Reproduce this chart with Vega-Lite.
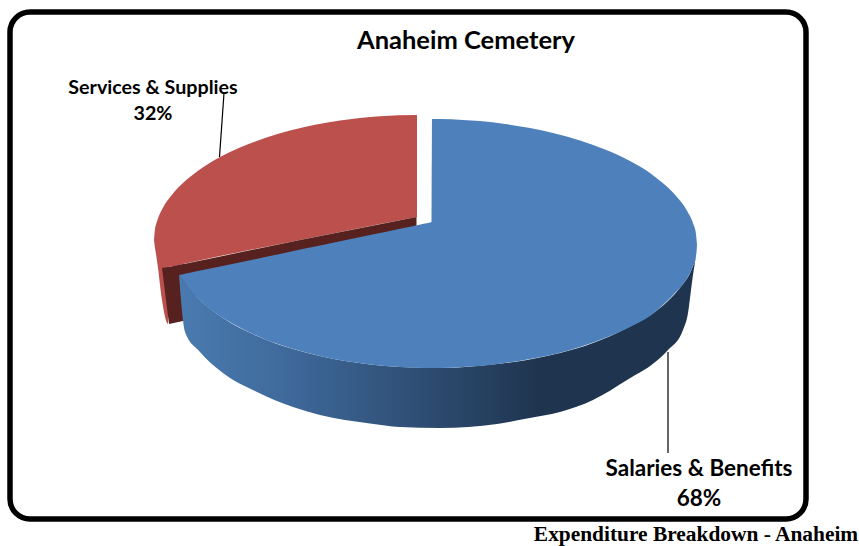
{
"$schema":"https://vega.github.io/schema/vega-lite/v6.json",
"width":859,"height":546,"padding":0,"autosize":{"type":"none"},
"background":"white",
"view":{"stroke":null},
"datasets":{
"frame":[{"left":10,"right":806,"top":12,"bottom":519}],
"redFace":[
{"px":154,"up":240,"low":240},{"px":155,"up":229,"low":248},{"px":156,"up":224.6,"low":254},{"px":158,"up":218.4,"low":268},{"px":162,"up":209.5,"low":300},{"px":168,"up":199.8,"low":324},{"px":169,"up":198.5,"low":267},{"px":175,"up":191,"low":266},{"px":183,"up":183,"low":264},{"px":197,"up":171.5,"low":261},{"px":220,"up":157,"low":256},{"px":240,"up":147.5,"low":252},{"px":265,"up":138,"low":247},{"px":290,"up":130.5,"low":242},{"px":315,"up":124.8,"low":237},{"px":340,"up":120.5,"low":232},{"px":380,"up":116.2,"low":224},{"px":417,"up":115,"low":217}],
"redWall":[
{"px":162,"up":268,"low":268},{"px":169,"up":267,"low":324},{"px":183,"up":264,"low":321},{"px":184,"up":264,"low":300},{"px":300,"up":240,"low":262},{"px":416.5,"up":217,"low":229}],
"blueSide":[
{"px":179,"up":275,"low":275},{"px":185,"up":283.4,"low":332},{"px":200,"up":300,"low":352},{"px":223,"up":318,"low":373},{"px":257,"up":336,"low":392},{"px":293,"up":349,"low":407},{"px":320,"up":356,"low":415},{"px":370,"up":364.4,"low":423.5},{"px":400,"up":367,"low":427},{"px":440,"up":368,"low":428},{"px":497,"up":364,"low":424},{"px":527,"up":360,"low":418.5},{"px":560,"up":353,"low":412},{"px":593,"up":343,"low":400},{"px":627,"up":328,"low":380},{"px":660,"up":308,"low":358},{"px":668,"up":301,"low":350},{"px":683,"up":284,"low":330},{"px":688,"up":277,"low":313},{"px":691,"up":271,"low":290},{"px":693,"up":266,"low":275},{"px":695,"up":260,"low":262},{"px":697,"up":245,"low":246}],
"blueFace":[
{"px":179,"up":275,"low":275},{"px":185,"up":273.7,"low":283.4},{"px":190,"up":272.7,"low":290},{"px":203,"up":270,"low":303},{"px":220,"up":266.5,"low":316},{"px":237,"up":263,"low":326},{"px":263,"up":257.5,"low":338.5},{"px":290,"up":251.7,"low":348},{"px":320,"up":245.5,"low":356},{"px":370,"up":235,"low":364.4},{"px":400,"up":228.7,"low":367},{"px":425,"up":223.5,"low":368},{"px":431.7,"up":222,"low":368},{"px":432,"up":119,"low":368},{"px":440,"up":119.1,"low":368},{"px":463,"up":119.9,"low":367},{"px":480,"up":121.1,"low":366},{"px":505,"up":124,"low":363},{"px":530,"up":128,"low":359},{"px":555,"up":133.5,"low":354},{"px":580,"up":140.4,"low":347},{"px":605,"up":149.5,"low":338},{"px":630,"up":161,"low":327},{"px":650,"up":173,"low":316},{"px":663,"up":183.3,"low":305},{"px":675,"up":194.7,"low":293},{"px":687,"up":210.7,"low":278.5},{"px":693,"up":223.2,"low":266},{"px":696,"up":234,"low":256},{"px":697,"up":245,"low":245}],
"leaders":[{"x1":224,"y1":93,"x2":219.5,"y2":157},{"x1":668,"y1":352,"x2":668,"y2":453}],
"sliver":[{"px":432.4,"top":165,"end":222}],
"slices":[{"category":"Salaries & Benefits","share":0.68,"cx":699,"nameY":469,"shareY":499},{"category":"Services & Supplies","share":0.32,"cx":153,"nameY":88,"shareY":114}],
"titleRow":[{"text":"Anaheim Cemetery","cx":466,"cy":41}],
"captionRow":[{"text":"Expenditure Breakdown - Anaheim","cx":696,"cy":535}]
},
"encoding":{},
"layer":[
{"data":{"name":"frame"},"mark":{"type":"rect","fill":"white","stroke":"black","strokeWidth":5.5,"cornerRadius":20},
"encoding":{"x":{"field":"left","type":"quantitative","scale":{"domain":[0,859],"nice":false,"zero":false},"axis":null},"x2":{"field":"right"},"y":{"field":"top","type":"quantitative","scale":{"domain":[546,0],"nice":false,"zero":false},"axis":null},"y2":{"field":"bottom"}}},
{"data":{"name":"leaders"},"mark":{"type":"rule","color":"black","strokeWidth":1.2},
"encoding":{"x":{"field":"x1","type":"quantitative"},"x2":{"field":"x2"},"y":{"field":"y1","type":"quantitative"},"y2":{"field":"y2"}}},
{"data":{"name":"redFace"},"mark":{"type":"area","fill":"#bc504d","interpolate":"monotone"},
"encoding":{"x":{"field":"px","type":"quantitative"},"y":{"field":"up","type":"quantitative"},"y2":{"field":"low"}}},
{"data":{"name":"redWall"},"mark":{"type":"area","fill":"#56211f","interpolate":"linear"},
"encoding":{"x":{"field":"px","type":"quantitative"},"y":{"field":"up","type":"quantitative"},"y2":{"field":"low"}}},
{"data":{"name":"sliver"},"mark":{"type":"rule","color":"#5a6b80","strokeWidth":0.8},
"encoding":{"x":{"field":"px","type":"quantitative"},"y":{"field":"top","type":"quantitative"},"y2":{"field":"end"}}},
{"data":{"name":"blueSide"},"mark":{"type":"area","interpolate":"monotone","fill":{"gradient":"linear","x1":0,"y1":0,"x2":1,"y2":0,"stops":[{"offset":0,"color":"#4a7bb0"},{"offset":0.2,"color":"#3f6a9c"},{"offset":0.5,"color":"#2c4a6e"},{"offset":0.7,"color":"#1f344e"},{"offset":1,"color":"#1f344e"}]}},
"encoding":{"x":{"field":"px","type":"quantitative"},"y":{"field":"up","type":"quantitative"},"y2":{"field":"low"}}},
{"data":{"name":"blueFace"},"mark":{"type":"area","fill":"#4e80bc","interpolate":"monotone"},
"encoding":{"x":{"field":"px","type":"quantitative"},"y":{"field":"up","type":"quantitative"},"y2":{"field":"low"}}},
{"data":{"name":"slices"},"mark":{"type":"text","font":"Lato","fontWeight":"bold","fontSize":22.5,"align":"center","baseline":"middle","color":"black"},
"transform":[{"filter":"datum.share>0.5"}],
"encoding":{"x":{"field":"cx","type":"quantitative"},"y":{"field":"nameY","type":"quantitative"},"text":{"field":"category"}}},
{"data":{"name":"slices"},"mark":{"type":"text","font":"Lato","fontWeight":"bold","fontSize":22.5,"align":"center","baseline":"middle","color":"black"},
"transform":[{"filter":"datum.share>0.5"}],
"encoding":{"x":{"field":"cx","type":"quantitative"},"y":{"field":"shareY","type":"quantitative"},"text":{"field":"share","format":".0%"}}},
{"data":{"name":"slices"},"mark":{"type":"text","font":"Lato","fontWeight":"bold","fontSize":19.7,"align":"center","baseline":"middle","color":"black"},
"transform":[{"filter":"datum.share<0.5"}],
"encoding":{"x":{"field":"cx","type":"quantitative"},"y":{"field":"nameY","type":"quantitative"},"text":{"field":"category"}}},
{"data":{"name":"slices"},"mark":{"type":"text","font":"Lato","fontWeight":"bold","fontSize":19.7,"align":"center","baseline":"middle","color":"black"},
"transform":[{"filter":"datum.share<0.5"}],
"encoding":{"x":{"field":"cx","type":"quantitative"},"y":{"field":"shareY","type":"quantitative"},"text":{"field":"share","format":".0%"}}},
{"data":{"name":"titleRow"},"mark":{"type":"text","font":"Lato","fontWeight":"bold","fontSize":25.5,"align":"center","baseline":"middle","color":"black"},
"encoding":{"x":{"field":"cx","type":"quantitative"},"y":{"field":"cy","type":"quantitative"},"text":{"field":"text"}}},
{"data":{"name":"captionRow"},"mark":{"type":"text","font":"Liberation Serif","fontWeight":"bold","fontSize":21.4,"align":"center","baseline":"middle","color":"black"},
"encoding":{"x":{"field":"cx","type":"quantitative"},"y":{"field":"cy","type":"quantitative"},"text":{"field":"text"}}}
]
}
